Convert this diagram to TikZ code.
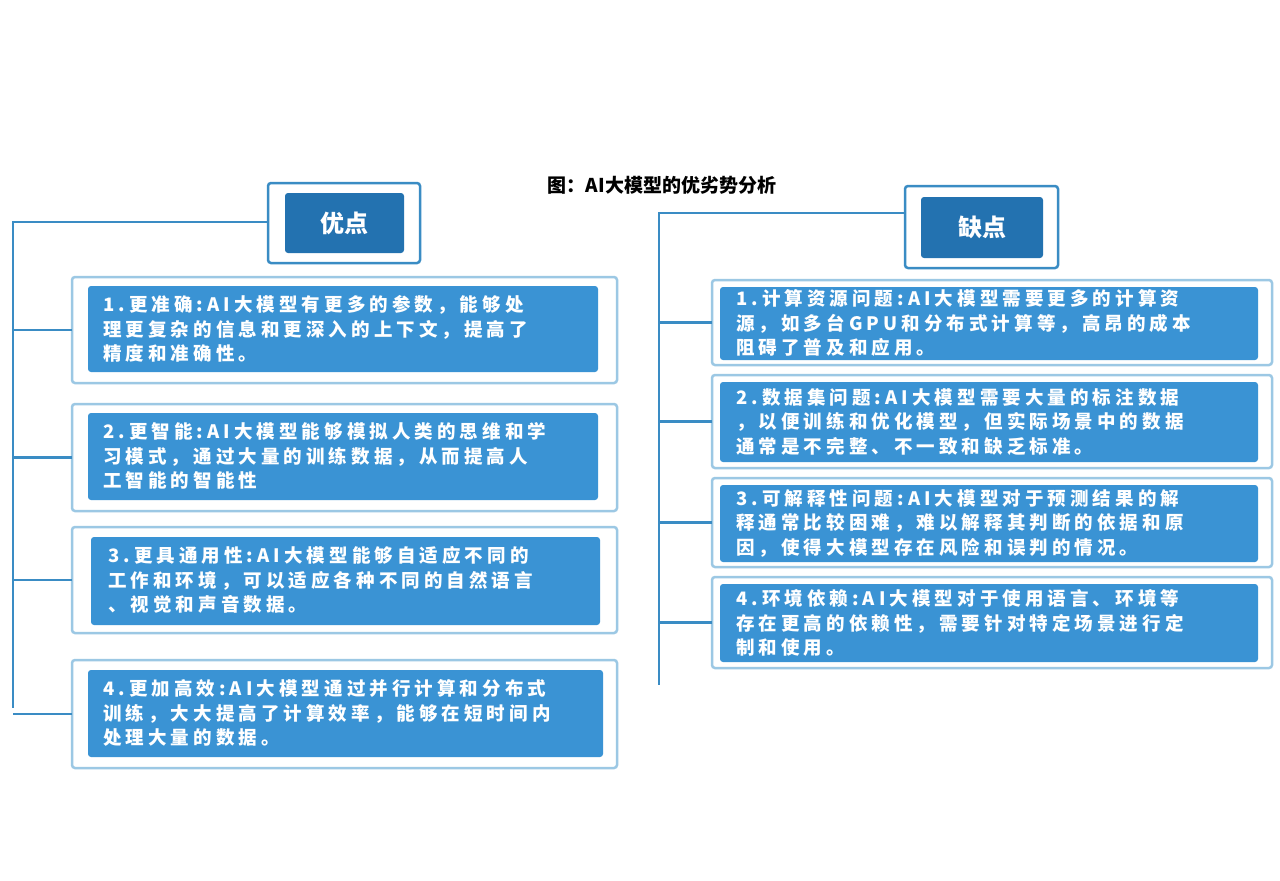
\documentclass[tikz,border=0pt]{standalone}
\usepackage{fontspec}
\setmainfont{Noto Sans CJK SC}
\newfontfamily\cjk[LetterSpace=22]{Noto Sans CJK SC}
\newfontfamily\cjkt{Noto Sans CJK SC}
\definecolor{ln}{HTML}{3A8CC4}
\definecolor{ob}{HTML}{9CC8E4}
\definecolor{ib}{HTML}{3A93D4}
\definecolor{hb}{HTML}{2372B0}
\begin{document}
\begin{tikzpicture}[x=1pt,y=-1pt,
 outer/.style={draw=ob,line width=2.5pt,rounded corners=3pt,fill=white},
 hout/.style={draw=ln,line width=2.5pt,rounded corners=3pt,fill=white},
 inner/.style={fill=ib,rounded corners=3pt},
 hin/.style={fill=hb,rounded corners=3pt},
 conn/.style={draw=ln,line width=2.5pt},
 txt/.style={anchor=west,align=left,text=white,inner sep=0pt,font=\cjk\bfseries\fontsize{18.5}{24.5}\selectfont},
 htxt/.style={text=white,font=\cjkt\bfseries\fontsize{24}{28}\selectfont}]
\useasboundingbox (0,0) rectangle (1280,881);
\fill[white] (0,0) rectangle (1280,881);
\node[font=\cjkt\bfseries\fontsize{19}{22}\selectfont] (title) at (662,185) {图：AI大模型的优劣势分析};
% left
\draw[hout] (268,183) rectangle (420,263);
\node[hout,draw=none,fill=none,minimum width=152pt,minimum height=80pt] (lh) at (344,223) {};
\fill[hin] (285,193) rectangle (404,253);
\node[htxt] (lht) at (344.5,223) {优点};
\foreach \i/\a/\b/\c/\d/\e/\f/\g/\h in {1/277/383/88/286/598/372/103/329, 2/404/511/88/413/598/500/103/456, 3/527/633/91/537/600/625/108/580, 4/660/768/88/670/603/757/103/713}{
 \draw[outer] (72,\a) rectangle (617,\b);
 \coordinate (lb\i) at (72,{(\a+\b)/2});
 \fill[inner] (\c,\d) rectangle (\e,\f);
}
\node[txt] (l1) at (103,329) {1.更准确:AI大模型有更多的参数，能够处\\理更复杂的信息和更深入的上下文，提高了\\精度和准确性。};
\node[txt] (l2) at (103,456) {2.更智能:AI大模型能够模拟人类的思维和学\\习模式，通过大量的训练数据，从而提高人\\工智能的智能性};
\node[txt] (l3) at (108,580) {3.更具通用性:AI大模型能够自适应不同的\\工作和环境，可以适应各种不同的自然语言\\、视觉和声音数据。};
\node[txt] (l4) at (103,713) {4.更加高效:AI大模型通过并行计算和分布式\\训练，大大提高了计算效率，能够在短时间内\\处理大量的数据。};
\coordinate (lt) at (13,222);
\coordinate (lbot) at (13,708);
\draw[conn] (lh.west |- lt) -- (lt) -- (lbot);
\foreach \i in {1,2,3,4}{\draw[conn] (lb\i) -- (lt |- lb\i);}
% right
\draw[hout] (905,186) rectangle (1058,268);
\node[minimum width=153pt,minimum height=82pt] (rh) at (981.5,227) {};
\fill[hin] (921,197) rectangle (1043,258);
\node[htxt] (rht) at (982,227.5) {缺点};
\foreach \i/\a/\b/\d/\f in {1/280/365/287/360, 2/375/468/382/462, 3/478/567/485/562, 4/577/668/584/662}{
 \draw[outer] (712,\a) rectangle (1272,\b);
 \coordinate (rb\i) at (712,{(\a+\b)/2});
 \fill[inner] (720,\d) rectangle (1258,\f);
}
\node[txt] (r1) at (736,323) {1.计算资源问题:AI大模型需要更多的计算资\\源，如多台GPU和分布式计算等，高昂的成本\\阻碍了普及和应用。};
\node[txt] (r2) at (736,422) {2.数据集问题:AI大模型需要大量的标注数据\\，以便训练和优化模型，但实际场景中的数据\\通常是不完整、不一致和缺乏标准。};
\node[txt] (r3) at (736,523) {3.可解释性问题:AI大模型对于预测结果的解\\释通常比较困难，难以解释其判断的依据和原\\因，使得大模型存在风险和误判的情况。};
\node[txt] (r4) at (736,623) {4.环境依赖:AI大模型对于使用语言、环境等\\存在更高的依赖性，需要针对特定场景进行定\\制和使用。};
\coordinate (rt) at (659,213);
\coordinate (rbot) at (659,685);
\draw[conn] (rh.west |- rt) -- (rt) -- (rbot);
\foreach \i in {1,2,3,4}{\draw[conn] (rb\i) -- (rt |- rb\i);}
\end{tikzpicture}
\end{document}
